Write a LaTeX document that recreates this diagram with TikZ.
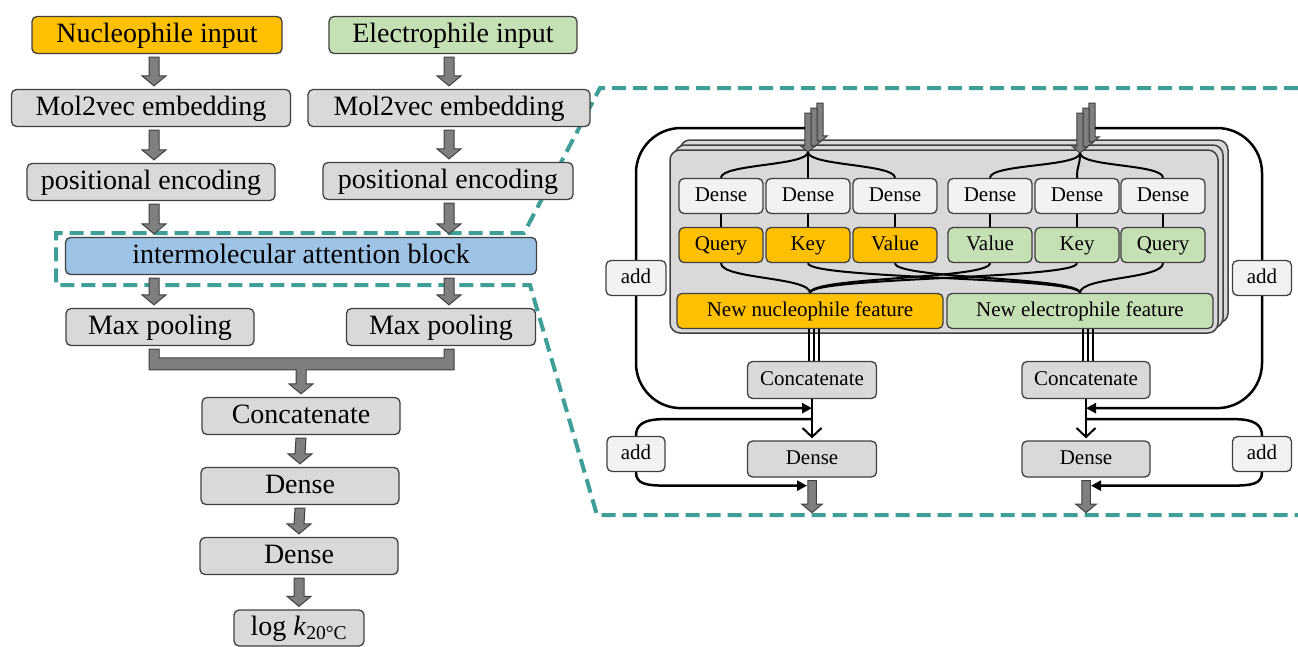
\documentclass[tikz,border=0pt]{standalone}
\usepackage{fontspec}
\setmainfont{Liberation Serif}
\usetikzlibrary{arrows.meta,calc}

\definecolor{nucorange}{RGB}{255,192,0}
\definecolor{elegreen}{RGB}{197,224,180}
\definecolor{attblue}{RGB}{157,195,230}
\definecolor{boxgray}{RGB}{217,217,217}
\definecolor{lightbox}{RGB}{242,242,242}
\definecolor{edgegray}{RGB}{64,64,64}
\definecolor{arrowgray}{RGB}{127,127,127}
\definecolor{dashteal}{RGB}{62,158,152}

\newcommand{\gapA}{3}
\newcommand{\gapB}{3}
\newcommand{\fatarrow}[3][1]{%
  \path ($(#2)+(0,\gapA)$) coordinate (fa-a) ($(#3)+(0,-\gapB)$) coordinate (fa-b);
  \draw[fatline] ($(fa-a)+(-5*#1,0)$) -- ($(fa-b)+(-5*#1,-10*#1)$) -- ($(fa-b)+(-12*#1,-10*#1)$)
    -- (fa-b) -- ($(fa-b)+(12*#1,-10*#1)$) -- ($(fa-b)+(5*#1,-10*#1)$) -- ($(fa-a)+(5*#1,0)$) -- cycle;}

\begin{document}
\begin{tikzpicture}[x=1pt, y=-1pt,
   every node/.style={draw=edgegray, line width=1.3pt, rounded corners=5pt, inner sep=0pt},
   lbox/.style={minimum height=37pt, text height=20pt, text depth=6pt, font=\fontsize{28}{30}\selectfont},
   rbox/.style={minimum height=35pt, text height=15pt, text depth=4.6pt, font=\fontsize{21}{24}\selectfont},
   qkv/.style={rbox, minimum width=84pt},
   fatline/.style={draw=edgegray, fill=arrowgray, line width=1pt, line join=miter},
   link/.style={line width=2pt},
   thinlink/.style={line width=1.2pt},
   loopline/.style={line width=2.5pt, rounded corners=45pt},
   backstack/.style={draw=edgegray, fill=boxgray, line width=1.5pt, rounded corners=10pt},
   dashline/.style={draw=dashteal, line width=4pt, dash pattern=on 14pt off 7pt},
   tri/.style={-{Triangle[length=10pt,width=10pt]}}]

\useasboundingbox (0,0) rectangle (1298,646);

\draw[dashline] (1298,88) -- (600,88) -- (524,233) -- (56,233) -- (56,285) -- (530,285) -- (597,515) -- (1298,515);

\coordinate (colA) at (154,0);
\coordinate (colB) at (449,0);

\node[lbox, fill=nucorange, minimum width=250pt] (nuc) at (157,35) {Nucleophile input};
\node[lbox, fill=elegreen, minimum width=248pt] (ele) at (453,35) {Electrophile input};
\node[lbox, fill=boxgray, minimum width=279pt] (molA) at (151,108) {Mol2vec embedding};
\node[lbox, fill=boxgray, minimum width=282pt] (molB) at (449,108) {Mol2vec embedding};
\node[lbox, fill=boxgray, minimum width=248pt] (posA) at (151,182) {positional encoding};
\node[lbox, fill=boxgray, minimum width=250pt] (posB) at (448,181) {positional encoding};
\node[lbox, fill=attblue, minimum width=471pt] (att) at (301,256) {intermolecular attention block};
\node[lbox, fill=boxgray, minimum width=188pt] (poolA) at (160,327) {Max pooling};
\node[lbox, fill=boxgray, minimum width=189pt] (poolB) at (441,327) {Max pooling};
\node[lbox, fill=boxgray, minimum width=198pt] (cat) at (301,416) {Concatenate};
\node[lbox, fill=boxgray, minimum width=198pt] (fc1) at (300,486) {Dense};
\node[lbox, fill=boxgray, minimum width=198pt] (fc2) at (299,556) {Dense};
\node[lbox, fill=boxgray, minimum width=130pt, minimum height=36pt] (out) at (299,628) {log \textit{k}\textsubscript{20°C}};

\fatarrow{nuc.south -| colA}{molA.north -| colA}
\fatarrow{ele.south -| colB}{molB.north -| colB}
\fatarrow{molA.south -| colA}{posA.north -| colA}
\fatarrow{molB.south -| colB}{posB.north -| colB}
\fatarrow{posA.south -| colA}{att.north -| colA}
\fatarrow{posB.south -| colB}{att.north -| colB}
\fatarrow{att.south -| colA}{poolA.north -| colA}
\fatarrow{att.south -| colB}{poolB.north -| colB}
\fatarrow{cat.south}{fc1.north}
\fatarrow{fc1.south}{fc2.north}
\fatarrow{fc2.south}{out.north}

\draw[fatline] ($(poolA.south -| colA)+(-5,3)$) |- ($(cat.north)+(-5,-27)$) -- ($(cat.north)+(-5,-13)$)
  -- ($(cat.north)+(-12,-13)$) -- ($(cat.north)+(0,-3)$) -- ($(cat.north)+(12,-13)$)
  -- ($(cat.north)+(5,-13)$) -- ($(cat.north)+(5,-27)$) -| ($(poolB.south -| colB)+(5,3)$)
  -- ($(poolB.south -| colB)+(-5,3)$) |- ($(cat.north)+(0,-39)$) -| ($(poolA.south -| colA)+(5,3)$) -- cycle;

% attention block
\foreach \s in {2,1}
  \draw[backstack] (670+5*\s,150-5*\s) rectangle (1218+5*\s,333-5*\s);
\draw[backstack] (670,150) rectangle (1218,333);

\node[qkv, fill=lightbox] (dN1) at (721,196) {Dense};
\node[qkv, fill=lightbox] (dN2) at (808,196) {Dense};
\node[qkv, fill=lightbox] (dN3) at (895,196) {Dense};
\node[qkv, fill=lightbox] (dE1) at (990,196) {Dense};
\node[qkv, fill=lightbox] (dE2) at (1077,196) {Dense};
\node[qkv, fill=lightbox] (dE3) at (1163,196) {Dense};
\node[qkv, fill=nucorange] (qN) at (721,245) {Query};
\node[qkv, fill=nucorange] (kN) at (808,245) {Key};
\node[qkv, fill=nucorange] (vN) at (895,245) {Value};
\node[qkv, fill=elegreen] (vE) at (990,245) {Value};
\node[qkv, fill=elegreen] (kE) at (1077,245) {Key};
\node[qkv, fill=elegreen] (qE) at (1163,245) {Query};
\node[rbox, fill=nucorange, minimum width=266pt] (fN) at (810,311) {New nucleophile feature};
\node[rbox, fill=elegreen, minimum width=266pt] (fE) at (1080,311) {New electrophile feature};

\node[rbox, fill=boxgray, minimum width=129pt, minimum height=37pt] (catN) at (812,380) {Concatenate};
\node[rbox, fill=boxgray, minimum width=128pt, minimum height=37pt] (catE) at (1086,380) {Concatenate};
\node[rbox, fill=boxgray, minimum width=129pt, minimum height=36pt] (dnsN) at (812,459) {Dense};
\node[rbox, fill=boxgray, minimum width=128pt, minimum height=36pt] (dnsE) at (1086,459) {Dense};

\coordinate (inN) at (808,113);
\coordinate (tipN) at (808,152);
\coordinate (inE) at (1080,113);
\coordinate (tipE) at (1080,153);

\begin{scope}
\renewcommand{\gapA}{0}\renewcommand{\gapB}{0}
\foreach \k in {2,1,0} {
  \coordinate (ta) at ($(inN)+(6*\k,-5*\k)$);
  \coordinate (tb) at ($(tipN)+(6*\k,-5*\k)$);
  \fatarrow[0.62]{ta}{tb}
  \coordinate (ta) at ($(inE)+(6*\k,-5*\k)$);
  \coordinate (tb) at ($(tipE)+(6*\k,-5*\k)$);
  \fatarrow[0.62]{ta}{tb}
}
\end{scope}

\foreach \d in {dN1,dN2,dN3}
  \draw[link] (tipN) .. controls +(0,14) and +(0,-14) .. (\d.north);
\foreach \d in {dE1,dE2,dE3}
  \draw[link] (tipE) .. controls +(0,14) and +(0,-14) .. (\d.north);
\foreach \a/\b in {dN1/qN, dN2/kN, dN3/vN, dE1/vE, dE2/kE, dE3/qE}
  \draw[link] (\a) -- (\b);
\foreach \a/\b in {qN/fN, kE/fN, vE/fN, qE/fE, kN/fE, vN/fE}
  \draw[link] (\a.south) .. controls +(0,16) and +(0,-16) .. (\b.north);

\foreach \dx in {-3,2,7} {
  \draw[thinlink] ($(catN.north |- fN.south)+(\dx,0)$) -- ($(catN.north)+(\dx,0)$);
  \draw[thinlink] ($(catE.north |- fE.south)+(\dx,0)$) -- ($(catE.north)+(\dx,0)$);
}

\draw[link, -{Straight Barb[length=9pt,width=19pt]}, shorten >=2pt] (catN) -- (dnsN);
\draw[link, -{Straight Barb[length=9pt,width=19pt]}, shorten >=2pt] (catE) -- (dnsE);

\coordinate (endN) at ($(dnsN.south)+(0,38)$);
\coordinate (endE) at ($(dnsE.south)+(0,38)$);
\fatarrow[0.85]{dnsN.south}{endN}
\fatarrow[0.85]{dnsE.south}{endE}

% residual paths
\node[rbox, fill=lightbox, minimum width=60pt] (addA) at (636,278) {add};
\node[rbox, fill=lightbox, minimum width=59pt] (addB) at (1262,278) {add};
\node[rbox, fill=lightbox, minimum width=58pt] (addC) at (636,454) {add};
\node[rbox, fill=lightbox, minimum width=59pt] (addD) at (1262,454) {add};

\coordinate (resN) at ($(inN)+(-3,15)$);
\coordinate (resE) at ($(inE)+(15,15)$);
\coordinate (joinN) at ($(catN.south)+(0,9)$);
\coordinate (joinE) at ($(catE.south)+(0,9)$);
\coordinate (splitN) at ($(catN.south)+(0,20)$);
\coordinate (splitE) at ($(catE.south)+(0,20)$);
\coordinate (outN) at ($(dnsN.south)+(-5,8)$);
\coordinate (outE) at ($(dnsE.south)+(5,8)$);

\draw[loopline] (resN) -| (addA.north);
\draw[loopline, tri] (addA.south) |- (joinN);
\draw[loopline] (resE) -| (addB.north);
\draw[loopline, tri] (addB.south) |- (joinE);

\draw[line width=2.5pt] (splitN) -- ($(splitN -| addC)+(28,0)$) .. controls +(-22,0) and +(0,-10) .. (addC.north);
\draw[line width=2.5pt, tri] (addC.south) .. controls +(0,12) and +(-22,0) .. ($(addC.south |- outN)+(32,0)$) -- (outN);
\draw[line width=2.5pt] (splitE) -- ($(splitE -| addD)+(-28,0)$) .. controls +(22,0) and +(0,-10) .. (addD.north);
\draw[line width=2.5pt, tri] (addD.south) .. controls +(0,12) and +(22,0) .. ($(addD.south |- outE)+(-32,0)$) -- (outE);

\end{tikzpicture}
\end{document}
